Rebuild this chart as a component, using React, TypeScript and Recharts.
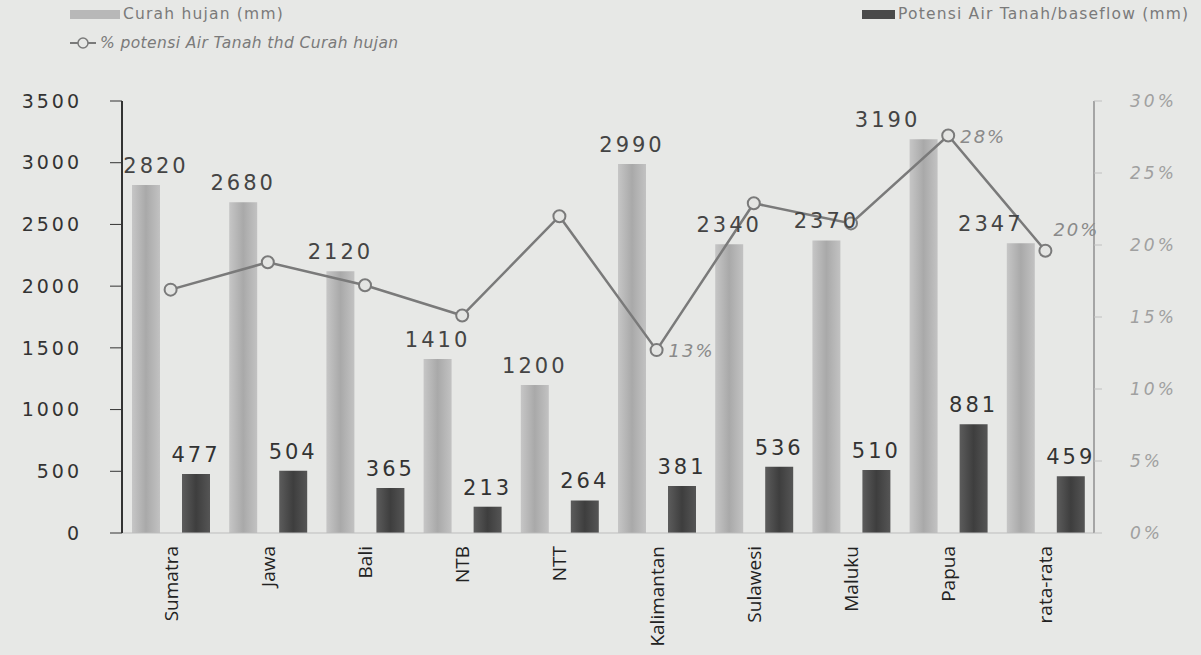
import React from "react";
import {
  ComposedChart,
  Bar,
  Line,
  XAxis,
  YAxis,
  LabelList,
} from "recharts";

const regions = ["Sumatra", "Jawa", "Bali", "NTB", "NTT", "Kalimantan", "Sulawesi", "Maluku", "Papua", "rata-rata"];
const rainfall = [2820, 2680, 2120, 1410, 1200, 2990, 2340, 2370, 3190, 2347];
const baseflow = [477, 504, 365, 213, 264, 381, 536, 510, 881, 459];
const percent = [16.9, 18.8, 17.2, 15.1, 22.0, 12.7, 22.9, 21.5, 27.6, 19.6];
const percentLabels = ["", "", "", "", "", "13%", "", "", "28%", "20%"];
const leftTicks = [0, 500, 1000, 1500, 2000, 2500, 3000, 3500];
const rightTicks = [0, 5, 10, 15, 20, 25, 30];

const data = regions.map((r, i) => ({
  region: r,
  rain: rainfall[i],
  base: baseflow[i],
  pct: percent[i],
  pctLabel: percentLabels[i],
}));

const numFont = "'DejaVu Sans', sans-serif";

// small nudges so rain labels clear the line, as in the source
const rainLabelShift: Record<number, number> = { 0: 10, 8: -36, 9: -30 };

const XTick = (props: any) => {
  const { x, y, payload } = props;
  return (
    <text
      x={0}
      y={0}
      transform={`translate(${x + 7},${y + 5}) rotate(-90)`}
      textAnchor="end"
      fontFamily="'Open Sans', sans-serif"
      fontSize={19}
      fill="#222"
    >
      {payload.value}
    </text>
  );
};

const RainLabel = (props: any) => {
  const { x, y, width, value, index } = props;
  const dx = rainLabelShift[index] || 0;
  return (
    <text
      x={x + width / 2 + dx}
      y={y - 12}
      textAnchor="middle"
      fontFamily={numFont}
      fontSize={21}
      letterSpacing={3}
      fill="#444"
    >
      {value}
    </text>
  );
};

const PctLabel = (props: any) => {
  const { x, y, index } = props;
  const t = percentLabels[index];
  if (!t) return null;
  const dy = index === 9 ? -20 : 2;
  const dx = index === 9 ? 8 : 12;
  return (
    <text
      x={x + dx}
      y={y + dy}
      dominantBaseline="middle"
      fontFamily={numFont}
      fontStyle="italic"
      fontSize={18}
      letterSpacing={2}
      fill="#8a8a8a"
    >
      {t}
    </text>
  );
};

const Dot = (props: any) => {
  const { cx, cy } = props;
  return <circle cx={cx} cy={cy} r={6} fill="#e4e5e3" stroke="#7a7a7a" strokeWidth={2} />;
};

const legendText: React.CSSProperties = {
  fontFamily: numFont,
  fontSize: 15.5,
  letterSpacing: 1.2,
  color: "#7a7a7a",
  whiteSpace: "nowrap",
};

export default function App() {
  return (
    <div style={{ position: "relative", width: 1201, height: 655, background: "#e7e8e6" }}>
      <style>{`body{margin:0}`}</style>
      <div style={{ position: "absolute", left: 70, top: 5, display: "flex", alignItems: "center", ...legendText }}>
        <span style={{ display: "inline-block", width: 50, height: 9, background: "#b8b8b8", marginRight: 3 }} />
        Curah hujan (mm)
      </div>
      <div style={{ position: "absolute", left: 862, top: 5, display: "flex", alignItems: "center", ...legendText }}>
        <span style={{ display: "inline-block", width: 33, height: 9, background: "#4a4a4a", marginRight: 3 }} />
        Potensi Air Tanah/baseflow (mm)
      </div>
      <div style={{ position: "absolute", left: 70, top: 34, display: "flex", alignItems: "center", ...legendText, letterSpacing: 0.4, fontStyle: "italic" }}>
        <svg width={26} height={14} style={{ marginRight: 4 }}>
          <line x1={0} y1={7} x2={26} y2={7} stroke="#7a7a7a" strokeWidth={2} />
          <circle cx={13} cy={7} r={5} fill="#e7e8e6" stroke="#7a7a7a" strokeWidth={1.5} />
        </svg>
        % potensi Air Tanah thd Curah hujan
      </div>
      <ComposedChart
        width={1201}
        height={655}
        data={data}
        margin={{ top: 101, right: 27, left: 42, bottom: 0 }}
        barSize={28}
        barGap={22}
      >
        <defs>
          <linearGradient id="rainGrad" x1="0" y1="0" x2="1" y2="0">
            <stop offset="0%" stopColor="#c6c6c6" />
            <stop offset="50%" stopColor="#a9a9a9" />
            <stop offset="100%" stopColor="#c2c2c2" />
          </linearGradient>
          <linearGradient id="baseGrad" x1="0" y1="0" x2="1" y2="0">
            <stop offset="0%" stopColor="#5c5c5c" />
            <stop offset="50%" stopColor="#3e3e3e" />
            <stop offset="100%" stopColor="#555" />
          </linearGradient>
        </defs>
        <XAxis
          dataKey="region"
          height={122}
          interval={0}
          tick={<XTick />}
          axisLine={{ stroke: "#bdbdbd" }}
          tickLine={false}
        />
        <YAxis
          yAxisId="left"
          domain={[0, 3500]}
          ticks={leftTicks}
          width={80}
          axisLine={{ stroke: "#333", strokeWidth: 2 }}
          tickLine={{ stroke: "#333" }}
          tickSize={12}
          tickMargin={28}
          tick={{ fontFamily: numFont, fontSize: 19, fill: "#333", letterSpacing: 3 }}
        />
        <YAxis
          yAxisId="right"
          orientation="right"
          domain={[0, 30]}
          ticks={rightTicks}
          width={80}
          tickFormatter={(v: number) => `${v}%`}
          axisLine={{ stroke: "#a5a5a5", strokeWidth: 2 }}
          tickLine={{ stroke: "#c0c0c0" }}
          tickSize={8}
          tickMargin={28}
          tick={{ fontFamily: numFont, fontSize: 17, fill: "#a0a0a0", fontStyle: "italic", letterSpacing: 3 }}
        />
        <Bar yAxisId="left" dataKey="rain" fill="url(#rainGrad)" isAnimationActive={false}>
          <LabelList dataKey="rain" content={<RainLabel />} />
        </Bar>
        <Bar yAxisId="left" dataKey="base" fill="url(#baseGrad)" isAnimationActive={false}>
          <LabelList
            dataKey="base"
            position="top"
            offset={12}
            style={{ fontFamily: numFont, fontSize: 21, fill: "#333", letterSpacing: 3 }}
          />
        </Bar>
        <Line
          yAxisId="right"
          dataKey="pct"
          stroke="#7a7a7a"
          strokeWidth={2.5}
          dot={<Dot />}
          activeDot={false}
          isAnimationActive={false}
        >
          <LabelList dataKey="pctLabel" content={<PctLabel />} />
        </Line>
      </ComposedChart>
    </div>
  );
}
